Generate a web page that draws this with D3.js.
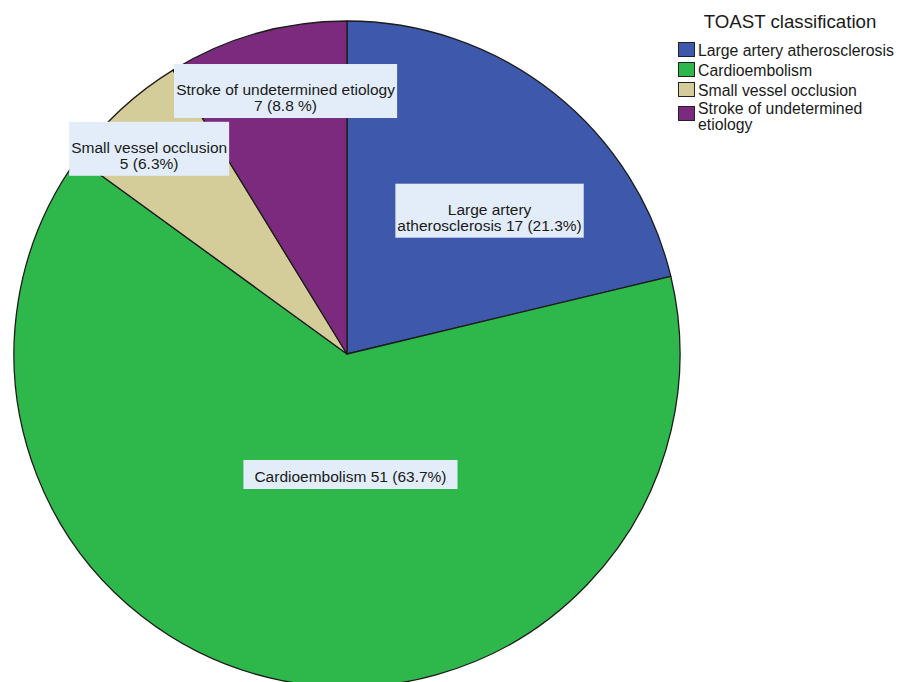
<!DOCTYPE html>
<html>
<head>
<meta charset="utf-8">
<script src="https://cdn.jsdelivr.net/npm/d3@7"></script>
<style>
  html, body { margin: 0; padding: 0; background: #ffffff; }
  svg { display: block; }
  text { font-family: "Liberation Sans", Arial, sans-serif; fill: #1a1a1a; }
</style>
</head>
<body>
<svg id="chart" width="899" height="682"></svg>
<script>
// TOAST classification counts
const categories = [
  "Large artery atherosclerosis",
  "Cardioembolism",
  "Small vessel occlusion",
  "Stroke of undetermined etiology"
];
const counts = [17, 51, 5, 7];
const pctLabels = ["21.3%", "63.7%", "6.3%", "8.8 %"];
const sliceColors = ["#3e58ab", "#2eb84b", "#d4cd99", "#7c2a7e"];
const legendTitle = "TOAST classification";

// Slice label text, one entry per line
const sliceLabelLines = [
  ["Large artery", `atherosclerosis ${counts[0]} (${pctLabels[0]})`],
  [`Cardioembolism ${counts[1]} (${pctLabels[1]})`],
  ["Small vessel occlusion", `${counts[2]} (${pctLabels[2]})`],
  ["Stroke of undetermined etiology", `${counts[3]} (${pctLabels[3]})`]
];
// Legend text, wrapped
const legendLines = [
  ["Large artery atherosclerosis"],
  ["Cardioembolism"],
  ["Small vessel occlusion"],
  ["Stroke of undetermined", "etiology"]
];

const svg = d3.select("#chart");
const cx = 347, cy = 354, R = 333;

const pie = d3.pie().sort(null).value(d => d)(counts);
const arc = d3.arc().innerRadius(0).outerRadius(R);

const g = svg.append("g").attr("transform", `translate(${cx},${cy})`);
g.selectAll("path.slice")
  .data(pie)
  .join("path")
  .attr("class", "slice")
  .attr("d", arc)
  .attr("fill", (d, i) => sliceColors[i])
  .attr("stroke", "#1c1c1c")
  .attr("stroke-width", 1.3)
  .attr("stroke-linejoin", "round");

// Label boxes: placed by polar offset from each slice's mid angle
const labelLayout = [
  { da: 6.6, rf: 0.607 },
  { da: -12.9, rf: 0.362 },
  { da: -1.2, rf: 0.856 },
  { da: 2.6, rf: 0.811 }
];
const fontSize = 15.5;
const lineGap = 16;

pie.forEach((d, i) => {
  const mid = (d.startAngle + d.endAngle) / 2 + labelLayout[i].da * Math.PI / 180;
  const r = labelLayout[i].rf * R;
  const lx = Math.sin(mid) * r;
  const ly = -Math.cos(mid) * r;
  const lines = sliceLabelLines[i];
  const boxH = lines.length === 1 ? 29 : 54;
  const lg = g.append("g").attr("transform", `translate(${lx},${ly})`);
  const rect = lg.append("rect").attr("fill", "#e2edf9");
  const t = lg.append("text")
    .attr("text-anchor", "middle")
    .style("font-size", fontSize + "px");
  const lastBase = boxH / 2 - 7;
  lines.forEach((s, k) => {
    t.append("tspan")
      .attr("x", 0)
      .attr("y", lastBase - (lines.length - 1 - k) * lineGap)
      .text(s);
  });
  const bb = t.node().getBBox();
  const padX = lines.length === 1 ? 11 : 2;
  rect.attr("x", -bb.width / 2 - padX)
    .attr("y", -boxH / 2)
    .attr("width", bb.width + 2 * padX)
    .attr("height", boxH);
});

// Legend
const legend = svg.append("g").attr("transform", "translate(678,0)");
legend.append("text")
  .attr("x", 112)
  .attr("y", 28)
  .attr("text-anchor", "middle")
  .style("font-size", "18.7px")
  .text(legendTitle);

const itemTops = [42, 62, 82, 106];
categories.forEach((c, i) => {
  const item = legend.append("g").attr("transform", `translate(0,${itemTops[i]})`);
  item.append("rect")
    .attr("x", 0.5).attr("y", 0.5)
    .attr("width", 16).attr("height", 14)
    .attr("fill", sliceColors[i])
    .attr("stroke", "#222")
    .attr("stroke-width", 1);
  const t = item.append("text").style("font-size", "15.8px");
  legendLines[i].forEach((s, k) => {
    t.append("tspan").attr("x", 20).attr("y", 14 + k * 16 - (legendLines[i].length > 1 ? 6 : 0)).text(s);
  });
});
</script>
</body>
</html>
